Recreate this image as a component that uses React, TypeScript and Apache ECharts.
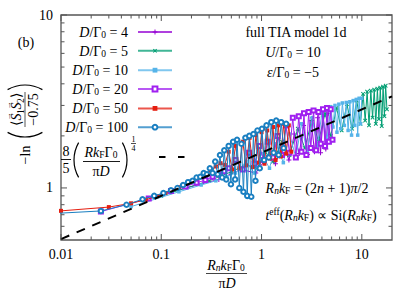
import React, { useEffect, useRef } from 'react';
import * as echarts from 'echarts';

const SERIF = '"Liberation Serif", "Times New Roman", serif';

// ---------- data ----------
const seriesLabels = ['4', '5', '10', '20', '50', '100'];
const seriesNames = seriesLabels.map((d) => `D/Γ0 = ${d}`);
const seriesColors = ['#9400d3', '#009e73', '#56b4e9', '#a020f0', '#e51e10', '#1a7fc1'];

const x_d4 = [0.125, 0.375, 0.625, 0.875, 1.125, 1.375, 1.625, 1.875, 2.125, 2.375, 2.625, 2.875, 3.125, 3.375, 3.625, 3.875, 4.125, 4.375, 4.625];
const y_d4 = [0.95, 1.12, 1.28, 1.22, 1.5, 1.38, 1.8, 1.45, 2.05, 1.58, 2.3, 1.56, 2.45, 1.62, 2.55, 1.6, 2.6, 1.68, 2.7];

const x_d5 = [0.1, 0.3, 0.5, 0.7, 0.9, 1.1, 1.3, 1.6, 1.9, 2.3, 2.7, 3.2, 3.7, 4.3, 4.9, 5.6, 6.3, 7.1, 8.0, 8.9, 9.7, 10.3, 10.8, 11.3, 11.8, 12.3, 12.8, 13.3, 13.8, 14.3, 14.8, 15.3, 15.8, 16.3, 16.8, 17.3, 17.8];
const y_d5 = [0.9, 1.1, 1.24, 1.36, 1.3, 1.6, 1.42, 1.85, 1.55, 2.2, 1.7, 2.5, 1.85, 2.7, 2.0, 2.9, 2.15, 3.05, 2.2, 3.2, 2.35, 3.5, 2.45, 3.6, 2.3, 3.65, 2.55, 3.7, 2.35, 3.75, 2.5, 3.8, 2.28, 3.85, 2.6, 3.9, 2.85];

const x_d10 = [0.05, 0.15, 0.25, 0.35, 0.45, 0.55, 0.7, 0.85, 1.0, 1.2, 1.4, 1.65, 1.9, 2.2, 2.5, 2.85, 3.2, 3.6, 4.0, 4.5, 4.9, 5.15, 5.4, 5.65, 5.9, 6.15, 6.4, 6.7, 7.0, 7.3, 7.6, 7.9, 8.2, 8.5, 8.8, 9.1, 9.4, 9.7, 10.0];
const y_d10 = [0.78, 0.95, 1.04, 1.1, 1.16, 1.22, 1.42, 1.22, 1.58, 1.3, 1.8, 1.4, 2.05, 1.5, 2.35, 1.6, 2.55, 1.75, 2.7, 1.9, 2.95, 2.25, 3.0, 2.1, 3.05, 2.2, 3.1, 2.3, 3.12, 2.15, 3.15, 2.02, 3.2, 2.3, 3.25, 2.02, 3.3, 2.35, 3.3];

const x_d20 = [0.025, 0.075, 0.125, 0.175, 0.225, 0.275, 0.325, 0.375, 0.425, 0.475, 0.55, 0.65, 0.75, 0.85, 0.95, 1.05, 1.15, 1.3, 1.45, 1.6, 1.75, 1.9, 2.05, 2.2, 2.35, 2.5, 2.65, 2.8, 2.95, 3.1, 3.3, 3.5, 3.7, 3.9, 4.1, 4.3, 4.5, 4.7, 4.9, 5.1];
const y_d20 = [0.73, 0.87, 0.96, 1.02, 1.07, 1.11, 1.16, 1.2, 1.25, 1.3, 1.45, 1.28, 1.6, 1.38, 1.75, 1.45, 1.85, 1.5, 2.0, 1.55, 2.3, 1.6, 2.55, 1.5, 2.6, 1.62, 2.7, 1.55, 2.75, 1.7, 2.8, 1.65, 2.75, 1.8, 2.85, 1.75, 2.9, 1.85, 2.85, 1.9];

const x_d50 = [0.01, 0.03, 0.05, 0.07, 0.09, 0.11, 0.15, 0.19, 0.23, 0.27, 0.31, 0.35, 0.39, 0.43, 0.47, 0.51, 0.55, 0.6, 0.65, 0.7, 0.76, 0.82, 0.88, 0.94, 1.0, 1.07, 1.14, 1.22, 1.3, 1.38, 1.47, 1.56, 1.66, 1.76, 1.87, 1.98];
const y_d50 = [0.737, 0.775, 0.815, 0.855, 0.895, 0.935, 1.01, 1.08, 1.14, 1.2, 1.26, 1.33, 1.39, 1.36, 1.62, 1.28, 1.75, 1.3, 1.85, 1.35, 1.95, 1.32, 2.02, 1.4, 2.1, 1.38, 2.15, 1.48, 2.25, 1.45, 2.3, 1.52, 2.35, 1.58, 2.3, 1.62];

const x_d100 = [0.005, 0.025, 0.045, 0.065, 0.085, 0.105, 0.125, 0.145, 0.165, 0.185, 0.205, 0.225, 0.245, 0.265, 0.285, 0.305, 0.325, 0.345, 0.365, 0.385, 0.405, 0.425, 0.445, 0.47, 0.495, 0.52, 0.545, 0.57, 0.6, 0.63, 0.66, 0.69, 0.72, 0.755, 0.79, 0.83, 0.87, 0.91, 0.96, 1.01, 1.06, 1.12, 1.18, 1.25, 1.32, 1.4, 1.48, 1.57, 1.66, 1.76];
const y_d100 = [0.7, 0.736, 0.8, 0.86, 0.9, 0.935, 0.97, 1.0, 1.04, 1.08, 1.1, 1.15, 1.16, 1.22, 1.2, 1.3, 1.22, 1.42, 1.2, 1.55, 1.15, 1.65, 1.12, 1.75, 1.05, 1.85, 1.12, 1.9, 1.0, 1.8, 0.95, 1.95, 0.9, 2.0, 0.89, 2.05, 1.1, 2.15, 1.3, 2.2, 1.45, 2.3, 1.5, 2.4, 1.6, 2.45, 1.55, 2.4, 1.7, 2.35];

// fit line 8/5 * x^(1/4): a straight line on log-log axes, end points
const fitName = '8/5 (RkFΓ0/πD)^(1/4)';
const fitX = [0.01, 20];
const fitY = [0.506, 3.383];

// axis ticks
const xMajorTicks = [0.01, 0.1, 1, 10];
const xTickLabels = ['0.01', '0.1', '1', '10'];
const xMinorTicks = [0.02, 0.03, 0.04, 0.05, 0.06, 0.07, 0.08, 0.09, 0.2, 0.3, 0.4, 0.5, 0.6, 0.7, 0.8, 0.9, 2, 3, 4, 5, 6, 7, 8, 9];
const yMajorTicks = [1, 10];
const yTickLabels = ['1', '10'];
const yMinorTicks = [0.6, 0.7, 0.8, 0.9, 2, 3, 4, 5, 6, 7, 8, 9];

// ---------- helpers ----------
const zip = (xs: number[], ys: number[]) => xs.map((x, i) => [x, ys[i]]);
const labelFor = (v: number, ticks: number[], labels: string[]) => {
  const i = ticks.findIndex((t) => Math.abs(Math.log10(v) - Math.log10(t)) < 1e-6);
  return i >= 0 ? labels[i] : '';
};

const PLUS = 'path://M4,0H6V4H10V6H6V10H4V6H0V4H4Z';

const RICH: any = {
  i: { fontStyle: 'italic', fontFamily: SERIF, fontSize: 14, lineHeight: 16 },
  s: { fontFamily: SERIF, fontSize: 9.5, lineHeight: 8, verticalAlign: 'bottom' },
  si: { fontFamily: SERIF, fontStyle: 'italic', fontSize: 9.5, lineHeight: 8, verticalAlign: 'bottom' },
  p: { fontFamily: SERIF, fontSize: 9.5, lineHeight: 8, verticalAlign: 'top' },
};

const T = (x: number, y: number, text: string, opts: any = {}) => ({
  type: 'text',
  x,
  y,
  silent: true,
  z: 100,
  style: {
    text,
    fontFamily: SERIF,
    fontSize: 14,
    fill: '#000',
    align: 'center',
    verticalAlign: 'middle',
    lineHeight: 16,
    rich: RICH,
    ...opts,
  },
});
const L = (x1: number, y1: number, x2: number, y2: number, w = 0.9, c = '#000') => ({
  type: 'line',
  silent: true,
  z: 100,
  shape: { x1, y1, x2, y2 },
  style: { stroke: c, lineWidth: w },
});
const paren = (xExt: number, cy: number, left: boolean) => {
  const r = 35;
  const a = 0.52;
  return {
    type: 'arc',
    silent: true,
    z: 100,
    shape: left
      ? { cx: xExt + r, cy, r, startAngle: Math.PI - a, endAngle: Math.PI + a, clockwise: true }
      : { cx: xExt - r, cy, r, startAngle: -a, endAngle: a, clockwise: true },
    style: { stroke: '#000', lineWidth: 1.2, fill: 'none' },
  };
};

export default function App() {
  const ref = useRef<HTMLDivElement>(null);
  useEffect(() => {
    const chart = echarts.init(ref.current!, null, { renderer: 'svg' });

    const xs = [x_d4, x_d5, x_d10, x_d20, x_d50, x_d100];
    const ys = [y_d4, y_d5, y_d10, y_d20, y_d50, y_d100];
    const symbols = [PLUS, PLUS, 'rect', 'emptyRect', 'rect', 'emptyCircle'];
    const rotates = [0, 45, 0, 0, 0, 0];
    const sizes = [5, 5, 3.5, 4, 4, 4.5];

    const dataSeries: any[] = seriesNames.map((name, k) => ({
      type: 'line',
      name,
      data: zip(xs[k], ys[k]),
      symbol: symbols[k],
      symbolSize: sizes[k],
      symbolRotate: rotates[k],
      lineStyle: { width: 1, color: seriesColors[k] },
      itemStyle: { color: seriesColors[k], borderColor: seriesColors[k], borderWidth: symbols[k].startsWith('empty') ? 1 : 0 },
      z: 2 + k,
      clip: true,
      silent: true,
    }));

    const tickData = [
      ...xMajorTicks.map((v) => [v, 1, 0, 1]),
      ...xMinorTicks.map((v) => [v, 1, 0, 0]),
      ...yMajorTicks.map((v) => [1, v, 1, 1]),
      ...yMinorTicks.map((v) => [1, v, 1, 0]),
    ];

    const tickSeries = {
      type: 'custom',
      silent: true,
      z: 20,
      clip: false,
      dimensions: ['x', 'y', 'k', 'm'],
      encode: { x: 0, y: 1 },
      data: tickData,
      renderItem: (params: any, api: any) => {
        const cs = params.coordSys;
        const kind = api.value(2);
        const len = api.value(3) ? 6 : 3.5;
        const style = { stroke: '#555', lineWidth: 1 };
        const pt = api.coord([api.value(0), api.value(1)]);
        if (kind === 0) {
          const x = pt[0];
          const yb = cs.y + cs.height;
          const yt = cs.y;
          return {
            type: 'group',
            children: [
              { type: 'line', shape: { x1: x, y1: yb, x2: x, y2: yb - len }, style },
              { type: 'line', shape: { x1: x, y1: yt, x2: x, y2: yt + len }, style },
            ],
          };
        }
        const y = pt[1];
        const xl = cs.x;
        const xr = cs.x + cs.width;
        return {
          type: 'group',
          children: [
            { type: 'line', shape: { x1: xl, y1: y, x2: xl + len, y2: y }, style },
            { type: 'line', shape: { x1: xr, y1: y, x2: xr - len, y2: y }, style },
          ],
        };
      },
    };

    const fitSeries = {
      type: 'line',
      name: fitName,
      data: zip(fitX, fitY),
      symbol: 'none',
      lineStyle: { color: '#000', width: 2, type: [9, 8] },
      itemStyle: { color: '#000' },
      z: 15,
      silent: true,
    };

    // y-axis label, drawn in a rotated group (local u: reading direction, v: down)
    const yLabelChildren: any[] = [
      T(-29, 0, '−ln'),
      paren(-11, 0, true),
      paren(41, 0, false),
      L(-1, 0, 34, 0, 0.9, '#444'),
      T(2.5, -8.5, '⟨', { fontSize: 14 }),
      T(9, -8.5, 'S', { fontSize: 14, fontStyle: 'italic' }),
      T(14.5, -4.5, '1', { fontSize: 9.5 }),
      T(20, -8.5, 'S', { fontSize: 14, fontStyle: 'italic' }),
      T(25.5, -4.5, '2', { fontSize: 9.5 }),
      T(30.5, -8.5, '⟩', { fontSize: 14 }),
      T(9.5, -17, '→', { fontSize: 8 }),
      T(20.5, -17, '→', { fontSize: 8 }),
      T(16.5, 8, '−0.75', { fontSize: 14 }),
    ];

    const graphic: any[] = [
      ...seriesLabels.map((d, i) => T(128, 32 + 19 * i, `{i|D}/Γ{s|0} = ${d}`, { align: 'right' })),
      T(26, 42, '(b)'),
      T(296, 32, 'full TIA model 1d'),
      T(293, 52, '{i|U}/Γ{s|0} = 10'),
      T(293, 72, '{i|ε}/Γ{s|0} = −5'),
      T(317, 188, '{i|R}{si|n}{i|k}{s|F} = (2{i|n} + 1){i|π}/2'),
      T(321, 215, '{i|t}{p|eff}({i|R}{si|n}{i|k}{s|F}) ∝ Si({i|R}{si|n}{i|k}{s|F})'),
      // x-axis label
      T(226, 265, '{i|R}{si|n}{i|k}{s|F}Γ{s|0}'),
      L(206, 273.5, 247, 273.5, 1, '#444'),
      T(227, 283, 'π{i|D}'),
      // fit legend: 8/5 (R kF Γ0 / πD)^(1/4) and its dashed sample
      T(66, 151, '8'),
      L(61, 159.5, 71, 159.5),
      T(66, 168, '5'),
      paren(74, 160, true),
      T(101, 152, '{i|R}{i|k}{s|F}Γ{s|0}'),
      L(83, 161.5, 120, 161.5),
      T(101, 171, 'π{i|D}'),
      paren(127, 160, false),
      T(133.5, 139, '1', { fontSize: 8 }),
      L(131, 143.5, 136, 143.5, 0.7),
      T(133.5, 148, '4', { fontSize: 8 }),
      L(159, 157, 165.5, 157, 2),
      L(178, 157, 184.5, 157, 2),
      { type: 'group', x: 25, y: 126, rotation: Math.PI / 2, children: yLabelChildren },
    ];

    const axisLabelBase = { fontFamily: SERIF, fontSize: 14, color: '#000' };

    const option: any = {
      animation: false,
      backgroundColor: '#fff',
      grid: { left: 61, top: 15, width: 331, height: 225, show: true, borderColor: '#555', borderWidth: 1.3 },
      xAxis: {
        type: 'log',
        logBase: 10,
        min: 0.01,
        max: 20,
        axisLine: { show: false },
        axisTick: { show: false },
        splitLine: { show: false },
        axisLabel: { ...axisLabelBase, margin: 7, formatter: (v: number) => labelFor(v, xMajorTicks, xTickLabels) },
      },
      yAxis: {
        type: 'log',
        logBase: 10,
        min: 0.5,
        max: 10,
        axisLine: { show: false },
        axisTick: { show: false },
        splitLine: { show: false },
        axisLabel: { ...axisLabelBase, margin: 8, formatter: (v: number) => labelFor(v, yMajorTicks, yTickLabels) },
      },
      legend: [
        {
          data: seriesNames,
          orient: 'vertical',
          left: 137,
          top: 29,
          itemWidth: 34,
          itemHeight: 6,
          itemGap: 13,
          padding: 0,
          selectedMode: false,
          formatter: () => '',
          lineStyle: { width: 2, opacity: 0.75 },
        },
      ],
      series: [...dataSeries, fitSeries, tickSeries],
      graphic,
    };

    chart.setOption(option);
    return () => chart.dispose();
  }, []);

  return (
    <div
      ref={ref}
      style={{ position: 'fixed', left: 0, top: 0, width: 415, height: 291, background: '#fff' }}
    />
  );
}
